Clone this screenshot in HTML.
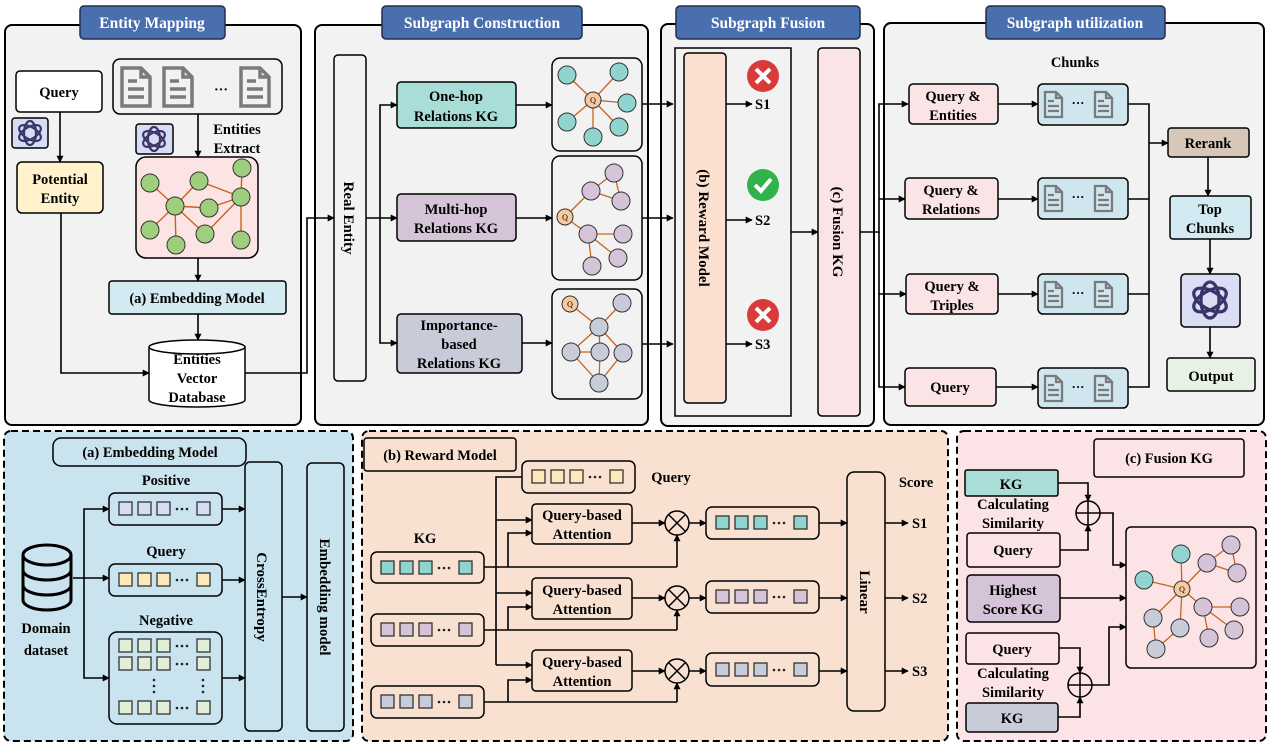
<!DOCTYPE html>
<html><head><meta charset="utf-8"><style>
html,body{margin:0;padding:0;background:#fff;}
svg{display:block;font-family:"Liberation Serif",serif;font-weight:bold;}
</style></head><body>
<svg width="1268" height="746" viewBox="0 0 1268 746" xmlns="http://www.w3.org/2000/svg">
<defs>
<marker id="a" viewBox="0 0 10 10" refX="9" refY="5" markerWidth="7" markerHeight="7" orient="auto" markerUnits="userSpaceOnUse"><path d="M0,0 L10,5 L0,10 z" fill="#000"/></marker>
<g id="v">
<rect x="0" y="0" width="13" height="13" fill="currentColor" stroke="#333" stroke-width="1.3"/>
<rect x="19" y="0" width="13" height="13" fill="currentColor" stroke="#333" stroke-width="1.3"/>
<rect x="38" y="0" width="13" height="13" fill="currentColor" stroke="#333" stroke-width="1.3"/>
<circle cx="58" cy="7" r="1.3" fill="#222"/><circle cx="63" cy="7" r="1.3" fill="#222"/><circle cx="68" cy="7" r="1.3" fill="#222"/>
<rect x="78" y="0" width="13" height="13" fill="currentColor" stroke="#333" stroke-width="1.3"/>
</g>
<g id="doc"><path d="M1,1 H20 L29,10 V39 H1 Z M20,1 V10 H29" fill="none" stroke="#7a7a7a" stroke-width="3.5"/><path d="M7,14 H16 M7,22 H23 M7,30 H23" stroke="#7a7a7a" stroke-width="3.5"/></g>
<g id="sdoc"><path d="M1,1 H12 L18,7 V26 H1 Z M12,1 V7 H18" fill="none" stroke="#7a7a7a" stroke-width="2.3"/><path d="M4,10 H10 M4,15 H15 M4,20 H15" stroke="#7a7a7a" stroke-width="2.3"/></g>
<g id="gpt" fill="none" stroke="#3b3468" stroke-width="2.2">
<ellipse cx="0" cy="0" rx="6" ry="12"/><ellipse cx="0" cy="0" rx="6" ry="12" transform="rotate(60)"/><ellipse cx="0" cy="0" rx="6" ry="12" transform="rotate(120)"/>
</g>
</defs>

<g stroke="#000" stroke-width="2" fill="#f2f2f2">
<rect x="5" y="25" width="296" height="400" rx="7"/>
<rect x="315" y="25" width="333" height="400" rx="7"/>
<rect x="661" y="24" width="213" height="402" rx="7"/>
<rect x="884" y="23" width="380" height="402" rx="7"/>
</g>
<g fill="#4a6fae" stroke="#1f2f4f" stroke-width="1.5">
<rect x="80" y="6" width="145" height="33" rx="4"/>
<rect x="382" y="6" width="200" height="33" rx="4"/>
<rect x="676" y="6" width="184" height="33" rx="4"/>
<rect x="986" y="6" width="179" height="33" rx="4"/>
</g>
<g fill="#fff" font-size="15.5" text-anchor="middle">
<text x="152" y="28">Entity Mapping</text>
<text x="482" y="28">Subgraph Construction</text>
<text x="768" y="28">Subgraph Fusion</text>
<text x="1075" y="28">Subgraph utilization</text>
</g>

<!-- Entity mapping -->
<g stroke="#000" stroke-width="1.5">
<rect x="16" y="71" width="86" height="41" rx="4" fill="#fff"/>
<rect x="17" y="162" width="86" height="51" rx="5" fill="#fff2cc"/>
<rect x="113" y="59" width="169" height="55" rx="7" fill="#f2f2f2"/>
<rect x="136" y="157" width="122" height="101" rx="10" fill="#fce4e4"/>
<rect x="109" y="281" width="177" height="33" rx="3" fill="#d3eaf2"/>
<rect x="12" y="118" width="36" height="30" rx="3" fill="#d6dcf3"/>
<rect x="136" y="124" width="37" height="30" rx="3" fill="#d6dcf3"/>
</g>
<use href="#gpt" x="30" y="133" transform="translate(0,0)"/>
<use href="#gpt" x="154" y="139"/>
<use href="#doc" x="121" y="67"/><use href="#doc" x="163" y="67"/><use href="#doc" x="240" y="67"/>
<text x="221" y="94" font-size="14" text-anchor="middle">···</text>
<path d="M149,347 V400 A48,7 0 0 0 245,400 V347" fill="#fff" stroke="#000" stroke-width="1.5"/>
<ellipse cx="197" cy="347" rx="48" ry="7" fill="#fff" stroke="#000" stroke-width="1.5"/>
<g font-size="14.5" text-anchor="middle">
<text x="59" y="97">Query</text>
<text x="60" y="184">Potential</text><text x="60" y="203">Entity</text>
<text x="197" y="303">(a) Embedding Model</text>
<text x="197" y="364">Entities</text><text x="197" y="383">Vector</text><text x="197" y="402">Database</text>
<text x="237" y="134">Entities</text><text x="237" y="153">Extract</text>
</g>
<g stroke="#c8641e" stroke-width="1.4">
<line x1="150" y1="183" x2="175" y2="206"/><line x1="199" y1="181" x2="175" y2="206"/><line x1="199" y1="181" x2="241" y2="197"/><line x1="242" y1="168" x2="241" y2="197"/><line x1="175" y1="206" x2="209" y2="208"/><line x1="209" y1="208" x2="241" y2="197"/><line x1="175" y1="206" x2="150" y2="230"/><line x1="175" y1="206" x2="176" y2="245"/><line x1="175" y1="206" x2="205" y2="234"/><line x1="205" y1="234" x2="241" y2="197"/><line x1="241" y1="197" x2="241" y2="240"/>
</g>
<g fill="#9fcf7e" stroke="#333" stroke-width="1">
<ellipse cx="150" cy="183" rx="9" ry="9"/><ellipse cx="199" cy="181" rx="9" ry="9"/><ellipse cx="242" cy="168" rx="9" ry="9"/><ellipse cx="241" cy="197" rx="9" ry="9"/><ellipse cx="175" cy="206" rx="9" ry="9"/><ellipse cx="209" cy="208" rx="9" ry="9"/><ellipse cx="150" cy="230" rx="9" ry="9"/><ellipse cx="176" cy="245" rx="9" ry="9"/><ellipse cx="205" cy="234" rx="9" ry="9"/><ellipse cx="241" cy="240" rx="9" ry="9"/>
</g>
<g stroke="#000" stroke-width="1.6" fill="none" marker-end="url(#a)">
<path d="M60,112 V162"/><path d="M198,114 V157"/><path d="M198,258 V281"/><path d="M198,314 V340"/>
<path d="M61,213 V373 H149"/><path d="M245,373 H307 V218 H334"/>
</g>

<!-- Subgraph construction -->
<rect x="334" y="55" width="32" height="326" rx="4" fill="#f2f2f2" stroke="#000" stroke-width="1.5"/>
<text transform="translate(344,218) rotate(90)" font-size="15" text-anchor="middle">Real Entity</text>
<g stroke="#000" stroke-width="1.5">
<rect x="397" y="82" width="119" height="46" rx="4" fill="#a8ddd8"/>
<rect x="397" y="194" width="119" height="47" rx="4" fill="#d5c3d8"/>
<rect x="397" y="314" width="125" height="59" rx="4" fill="#c8ccd8"/>
<rect x="552" y="58" width="90" height="93" rx="8" fill="#f2f2f2"/>
<rect x="552" y="156" width="90" height="124" rx="8" fill="#f2f2f2"/>
<rect x="552" y="289" width="90" height="110" rx="8" fill="#f2f2f2"/>
</g>
<g font-size="14.5" text-anchor="middle">
<text x="456" y="101">One-hop</text><text x="456" y="121">Relations KG</text>
<text x="456" y="214">Multi-hop</text><text x="456" y="233">Relations KG</text>
<text x="459" y="330">Importance-</text><text x="459" y="349">based</text><text x="459" y="368">Relations KG</text>
</g>
<g stroke="#000" stroke-width="1.6" fill="none" marker-end="url(#a)">
<path d="M366,218 H397"/><path d="M380,218 V105 H397"/><path d="M380,218 V343 H397"/>
<path d="M516,105 H552"/><path d="M516,218 H552"/><path d="M522,343 H552"/>
<path d="M642,104 H673"/><path d="M642,218 H673"/><path d="M642,344 H673"/>
</g>
<g stroke="#c8641e" stroke-width="1.3">
<line x1="593" y1="100" x2="567" y2="75"/><line x1="593" y1="100" x2="619" y2="72"/><line x1="593" y1="100" x2="627" y2="103"/><line x1="593" y1="100" x2="567" y2="122"/><line x1="593" y1="100" x2="619" y2="127"/><line x1="593" y1="100" x2="593" y2="137"/>
<line x1="565" y1="217" x2="591" y2="191"/><line x1="591" y1="191" x2="614" y2="173"/><line x1="614" y1="173" x2="621" y2="201"/><line x1="591" y1="191" x2="621" y2="201"/><line x1="565" y1="217" x2="588" y2="234"/><line x1="588" y1="234" x2="623" y2="234"/><line x1="588" y1="234" x2="618" y2="258"/><line x1="588" y1="234" x2="592" y2="266"/>
<line x1="570" y1="304" x2="599" y2="327"/><line x1="622" y1="303" x2="599" y2="327"/><line x1="599" y1="327" x2="571" y2="352"/><line x1="599" y1="327" x2="600" y2="352"/><line x1="599" y1="327" x2="623" y2="353"/><line x1="571" y1="352" x2="600" y2="352"/><line x1="571" y1="352" x2="599" y2="383"/><line x1="600" y1="352" x2="599" y2="383"/><line x1="623" y1="353" x2="599" y2="383"/>
</g>
<g stroke="#333" stroke-width="1">
<g fill="#8fd4cf"><circle cx="567" cy="75" r="9"/><circle cx="619" cy="72" r="9"/><circle cx="627" cy="103" r="9"/><circle cx="567" cy="122" r="9"/><circle cx="619" cy="127" r="9"/><circle cx="593" cy="137" r="9"/></g>
<g fill="#d5c3d8"><circle cx="614" cy="173" r="9"/><circle cx="591" cy="191" r="9"/><circle cx="621" cy="201" r="9"/><circle cx="588" cy="234" r="9"/><circle cx="623" cy="234" r="9"/><circle cx="618" cy="258" r="9"/><circle cx="592" cy="266" r="9"/></g>
<g fill="#c8ccd8"><circle cx="622" cy="303" r="9"/><circle cx="599" cy="327" r="9"/><circle cx="571" cy="352" r="9"/><circle cx="600" cy="352" r="9"/><circle cx="623" cy="353" r="9"/><circle cx="599" cy="383" r="9"/></g>
<g fill="#f8c9a0"><circle cx="593" cy="100" r="8"/><circle cx="565" cy="217" r="8"/><circle cx="570" cy="304" r="8"/></g>
</g>
<g font-size="8" font-weight="normal" text-anchor="middle"><text x="593" y="103">Q</text><text x="565" y="220">Q</text><text x="570" y="307">Q</text></g>

<!-- Subgraph fusion -->
<rect x="675" y="48" width="116" height="368" fill="#f2f2f2" stroke="#000" stroke-width="1.5"/>
<rect x="684" y="53" width="42" height="350" rx="4" fill="#fbe0cf" stroke="#000" stroke-width="1.5"/>
<rect x="818" y="48" width="42" height="368" rx="4" fill="#fbe4e6" stroke="#000" stroke-width="1.5"/>
<text transform="translate(699,228) rotate(90)" font-size="15" text-anchor="middle">(b) Reward Model</text>
<text transform="translate(833,232) rotate(90)" font-size="15" text-anchor="middle">(c) Fusion KG</text>
<g stroke="#000" stroke-width="1.6" fill="none" marker-end="url(#a)">
<path d="M726,104 H752"/><path d="M726,220 H752"/><path d="M726,344 H752"/><path d="M791,232 H818"/>
</g>
<g font-size="14.5"><text x="755" y="109">S1</text><text x="755" y="225">S2</text><text x="755" y="349">S3</text></g>
<circle cx="763" cy="76" r="16" fill="#d93b3b"/><path d="M756,69 L770,83 M770,69 L756,83" stroke="#fff" stroke-width="4"/>
<circle cx="763" cy="185" r="16" fill="#2fb34a"/><path d="M755,185 L761,191 L771,179" stroke="#fff" stroke-width="4" fill="none"/>
<circle cx="763" cy="315" r="16" fill="#d93b3b"/><path d="M756,308 L770,322 M770,308 L756,322" stroke="#fff" stroke-width="4"/>

<!-- Utilization -->
<text x="1075" y="67" font-size="14.5" text-anchor="middle">Chunks</text>
<g stroke="#000" stroke-width="1.5">
<rect x="909" y="84" width="89" height="40" rx="4" fill="#fbe4e6"/>
<rect x="905" y="178" width="93" height="41" rx="4" fill="#fbe4e6"/>
<rect x="906" y="274" width="92" height="40" rx="4" fill="#fbe4e6"/>
<rect x="905" y="368" width="91" height="38" rx="4" fill="#fbe4e6"/>
<rect x="1038" y="84" width="90" height="41" rx="5" fill="#cfe6ef"/>
<rect x="1038" y="178" width="90" height="41" rx="5" fill="#cfe6ef"/>
<rect x="1038" y="274" width="90" height="40" rx="5" fill="#cfe6ef"/>
<rect x="1038" y="368" width="90" height="40" rx="5" fill="#cfe6ef"/>
<rect x="1168" y="128" width="81" height="29" rx="3" fill="#d6c7b9"/>
<rect x="1170" y="196" width="81" height="43" rx="3" fill="#d3eaf2"/>
<rect x="1181" y="274" width="59" height="53" rx="4" fill="#d9def5"/>
<rect x="1167" y="358" width="88" height="33" rx="3" fill="#e8f2e4"/>
</g>
<use href="#sdoc" x="1044" y="91"/><use href="#sdoc" x="1094" y="91"/>
<use href="#sdoc" x="1044" y="185"/><use href="#sdoc" x="1094" y="185"/>
<use href="#sdoc" x="1044" y="281"/><use href="#sdoc" x="1094" y="281"/>
<use href="#sdoc" x="1044" y="375"/><use href="#sdoc" x="1094" y="375"/>
<g font-size="13" text-anchor="middle"><text x="1078" y="107">···</text><text x="1078" y="201">···</text><text x="1078" y="297">···</text><text x="1078" y="391">···</text></g>
<use href="#gpt" x="1210" y="300" transform="translate(-605,-150) scale(1.5)"/>
<g font-size="14.5" text-anchor="middle">
<text x="953" y="101">Query &amp;</text><text x="953" y="120">Entities</text>
<text x="951" y="195">Query &amp;</text><text x="951" y="214">Relations</text>
<text x="952" y="291">Query &amp;</text><text x="952" y="310">Triples</text>
<text x="950" y="392">Query</text>
<text x="1208" y="148">Rerank</text>
<text x="1210" y="214">Top</text><text x="1210" y="233">Chunks</text>
<text x="1211" y="381">Output</text>
</g>
<g stroke="#000" stroke-width="1.6" fill="none" marker-end="url(#a)">
<path d="M860,232 H879 V104 H908"/><path d="M879,199 H905"/><path d="M879,232 V294 H906"/><path d="M879,294 V387 H905"/>
<path d="M998,104 H1038"/><path d="M998,199 H1038"/><path d="M998,294 H1038"/><path d="M996,387 H1038"/>
<path d="M1149,143 H1168"/><path d="M1208,157 V196"/><path d="M1210,239 V274"/><path d="M1210,327 V358"/>
</g>
<path d="M1128,104 H1149 V387 H1128 M1128,199 H1149 M1128,294 H1149" stroke="#000" stroke-width="1.6" fill="none"/>

<!-- Bottom panel a -->
<rect x="4" y="431" width="349" height="310" rx="7" fill="#c9e4ee" stroke="#000" stroke-width="2" stroke-dasharray="7,4"/>
<g stroke="#000" stroke-width="1.5">
<rect x="53" y="438" width="193" height="28" rx="8" fill="#c9e4ee"/>
<rect x="109" y="493" width="113" height="32" rx="6" fill="#c9e4ee"/>
<rect x="109" y="564" width="113" height="32" rx="6" fill="#c9e4ee"/>
<rect x="109" y="632" width="113" height="92" rx="8" fill="#c9e4ee"/>
<rect x="245" y="462" width="37" height="269" rx="5" fill="#c9e4ee"/>
<rect x="307" y="463" width="37" height="268" rx="5" fill="#c9e4ee"/>
</g>
<use href="#v" x="119" y="502" style="color:#d6dcf3"/>
<use href="#v" x="119" y="573" style="color:#fde8b8"/>
<use href="#v" x="119" y="639" style="color:#e2efd8"/>
<use href="#v" x="119" y="657" style="color:#e2efd8"/>
<use href="#v" x="119" y="701" style="color:#e2efd8"/>
<g fill="#222"><circle cx="154" cy="680" r="1.3"/><circle cx="154" cy="686" r="1.3"/><circle cx="154" cy="692" r="1.3"/><circle cx="203" cy="680" r="1.3"/><circle cx="203" cy="686" r="1.3"/><circle cx="203" cy="692" r="1.3"/></g>
<g fill="none" stroke="#000" stroke-width="3">
<ellipse cx="47" cy="555" rx="24" ry="10"/>
<path d="M23,555 V600 A24,10 0 0 0 71,600 V555 M23,570 A24,10 0 0 0 71,570 M23,585 A24,10 0 0 0 71,585"/>
</g>
<g font-size="14.5" text-anchor="middle">
<text x="150" y="457">(a) Embedding Model</text>
<text x="166" y="485">Positive</text><text x="166" y="556">Query</text><text x="166" y="625">Negative</text>
<text x="46" y="633">Domain</text><text x="46" y="655">dataset</text>
</g>
<text transform="translate(257,597) rotate(90)" font-size="15" text-anchor="middle">CrossEntropy</text>
<text transform="translate(320,597) rotate(90)" font-size="15" text-anchor="middle">Embedding model</text>
<g stroke="#000" stroke-width="1.6" fill="none" marker-end="url(#a)">
<path d="M73,578 H109"/><path d="M84,578 V509 H109"/><path d="M84,578 V678 H109"/>
<path d="M222,509 H245"/><path d="M222,580 H245"/><path d="M222,678 H245"/><path d="M282,597 H307"/>
</g>

<!-- Bottom panel b -->
<rect x="362" y="431" width="586" height="310" rx="7" fill="#f9e1d2" stroke="#000" stroke-width="2" stroke-dasharray="7,4"/>
<g stroke="#000" stroke-width="1.5">
<rect x="364" y="438" width="152" height="33" rx="3" fill="#f9e1d2"/>
<rect x="522" y="461" width="113" height="32" rx="6" fill="#f9e1d2"/>
<rect x="532" y="504" width="100" height="40" rx="4" fill="#f9e1d2"/>
<rect x="532" y="578" width="100" height="41" rx="4" fill="#f9e1d2"/>
<rect x="532" y="650" width="100" height="41" rx="4" fill="#f9e1d2"/>
<rect x="371" y="552" width="113" height="31" rx="6" fill="#f9e1d2"/>
<rect x="371" y="614" width="113" height="32" rx="6" fill="#f9e1d2"/>
<rect x="371" y="686" width="113" height="32" rx="6" fill="#f9e1d2"/>
<rect x="706" y="507" width="113" height="32" rx="6" fill="#f9e1d2"/>
<rect x="706" y="581" width="113" height="32" rx="6" fill="#f9e1d2"/>
<rect x="706" y="653" width="113" height="33" rx="6" fill="#f9e1d2"/>
<rect x="847" y="472" width="38" height="239" rx="7" fill="#f9e1d2"/>
</g>
<use href="#v" x="532" y="470" style="color:#fde8b8"/>
<use href="#v" x="381" y="561" style="color:#8fd4cf"/>
<use href="#v" x="381" y="623" style="color:#d5c3d8"/>
<use href="#v" x="381" y="695" style="color:#c8ccd8"/>
<use href="#v" x="716" y="516" style="color:#8fd4cf"/>
<use href="#v" x="716" y="590" style="color:#d5c3d8"/>
<use href="#v" x="716" y="663" style="color:#c8ccd8"/>
<g font-size="14.5" text-anchor="middle">
<text x="440" y="460">(b) Reward Model</text>
<text x="671" y="482">Query</text><text x="425" y="543">KG</text><text x="916" y="487">Score</text>
<text x="582" y="520">Query-based</text><text x="582" y="539">Attention</text>
<text x="582" y="595">Query-based</text><text x="582" y="614">Attention</text>
<text x="582" y="667">Query-based</text><text x="582" y="686">Attention</text>
</g>
<g font-size="14.5"><text x="912" y="528">S1</text><text x="912" y="603">S2</text><text x="912" y="676">S3</text></g>
<text transform="translate(860,592) rotate(90)" font-size="15" text-anchor="middle">Linear</text>
<path d="M522,477 H496 V665" stroke="#000" stroke-width="1.6" fill="none"/>
<path d="M484,567 H677 M484,630 H677 M484,702 H677" stroke="#000" stroke-width="1.6" fill="none"/>
<g stroke="#000" stroke-width="1.6" fill="none" marker-end="url(#a)">
<path d="M496,520 H532"/><path d="M496,593 H532"/><path d="M496,665 H532"/>
<path d="M508,567 V533 H532"/><path d="M508,630 V607 H532"/><path d="M508,702 V680 H532"/>
<path d="M677,567 V535"/><path d="M677,630 V610"/><path d="M677,702 V683"/>
<path d="M632,523 H665"/><path d="M632,598 H665"/><path d="M632,671 H665"/>
<path d="M689,523 H706"/><path d="M689,598 H706"/><path d="M689,671 H706"/>
<path d="M819,523 H847"/><path d="M819,598 H847"/><path d="M819,671 H847"/>
<path d="M885,523 H908"/><path d="M885,598 H908"/><path d="M885,671 H908"/>
</g>
<g fill="none" stroke="#000" stroke-width="1.5">
<circle cx="677" cy="523" r="12"/><path d="M669,515 L685,531 M685,515 L669,531"/>
<circle cx="677" cy="598" r="12"/><path d="M669,590 L685,606 M685,590 L669,606"/>
<circle cx="677" cy="671" r="12"/><path d="M669,663 L685,679 M685,663 L669,679"/>
</g>

<!-- Bottom panel c -->
<rect x="957" y="431" width="309" height="310" rx="7" fill="#fce4e6" stroke="#000" stroke-width="2" stroke-dasharray="7,4"/>
<g stroke="#000" stroke-width="1.5">
<rect x="1094" y="439" width="150" height="38" rx="3" fill="#fce4e6"/>
<rect x="965" y="470" width="93" height="26" rx="2" fill="#a8ddd8"/>
<rect x="967" y="533" width="93" height="34" rx="3" fill="#fce4e6"/>
<rect x="967" y="575" width="93" height="47" rx="4" fill="#d5c3d8"/>
<rect x="966" y="633" width="93" height="31" rx="3" fill="#fce4e6"/>
<rect x="966" y="703" width="92" height="29" rx="3" fill="#c8ccd8"/>
<rect x="1126" y="527" width="130" height="141" rx="5" fill="#fce4e6"/>
</g>
<g font-size="14.5" text-anchor="middle">
<text x="1169" y="463">(c) Fusion KG</text>
<text x="1011" y="489">KG</text>
<text x="1013" y="509">Calculating</text><text x="1013" y="528">Similarity</text>
<text x="1013" y="555">Query</text>
<text x="1013" y="595">Highest</text><text x="1013" y="614">Score KG</text>
<text x="1012" y="654">Query</text>
<text x="1013" y="678">Calculating</text><text x="1013" y="697">Similarity</text>
<text x="1012" y="723">KG</text>
</g>
<g fill="none" stroke="#000" stroke-width="1.5">
<circle cx="1088" cy="513" r="12"/><path d="M1076,513 H1100 M1088,501 V525"/>
<circle cx="1080" cy="685" r="12"/><path d="M1068,685 H1092 M1080,673 V697"/>
</g>
<g stroke="#000" stroke-width="1.6" fill="none" marker-end="url(#a)">
<path d="M1058,483 H1088 V501"/><path d="M1060,550 H1088 V525"/>
<path d="M1100,513 H1113 V565 H1126"/><path d="M1060,598 H1126"/>
<path d="M1059,648 H1080 V673"/><path d="M1058,717 H1080 V697"/>
<path d="M1092,685 H1109 V627 H1126"/>
</g>
<g stroke="#c8641e" stroke-width="1.3">
<line x1="1182" y1="589" x2="1181" y2="554"/><line x1="1182" y1="589" x2="1144" y2="580"/><line x1="1182" y1="589" x2="1207" y2="563"/><line x1="1207" y1="563" x2="1231" y2="545"/><line x1="1231" y1="545" x2="1237" y2="573"/><line x1="1207" y1="563" x2="1237" y2="573"/><line x1="1182" y1="589" x2="1203" y2="607"/><line x1="1203" y1="607" x2="1240" y2="607"/><line x1="1203" y1="607" x2="1234" y2="630"/><line x1="1203" y1="607" x2="1209" y2="638"/><line x1="1182" y1="589" x2="1153" y2="618"/><line x1="1182" y1="589" x2="1180" y2="628"/><line x1="1153" y1="618" x2="1156" y2="649"/><line x1="1180" y1="628" x2="1156" y2="649"/>
</g>
<g stroke="#333" stroke-width="1">
<g fill="#8fd4cf"><circle cx="1181" cy="554" r="9"/><circle cx="1144" cy="580" r="9"/></g>
<g fill="#d5c3d8"><circle cx="1231" cy="545" r="9"/><circle cx="1207" cy="563" r="9"/><circle cx="1237" cy="573" r="9"/><circle cx="1203" cy="607" r="9"/><circle cx="1240" cy="607" r="9"/><circle cx="1234" cy="630" r="9"/><circle cx="1209" cy="638" r="9"/></g>
<g fill="#c8ccd8"><circle cx="1153" cy="618" r="9"/><circle cx="1180" cy="628" r="9"/><circle cx="1156" cy="649" r="9"/></g>
<circle cx="1182" cy="589" r="8" fill="#f8c9a0"/>
</g>
<text x="1182" y="592" font-size="8" font-weight="normal" text-anchor="middle">Q</text>
</svg>
</body></html>
